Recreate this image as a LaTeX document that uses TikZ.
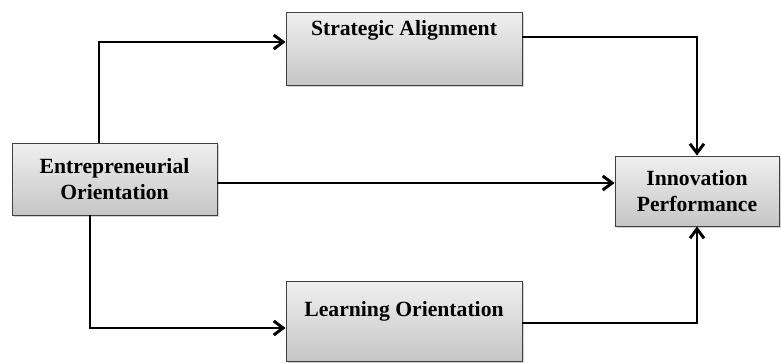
\documentclass[tikz,border=0pt]{standalone}
\usepackage{fontspec}
\setmainfont{Liberation Serif}
\usetikzlibrary{arrows.meta,shadows}

\tikzset{
  box/.style={draw=black!75, line width=0.8pt, top color=gray!12, bottom color=gray!45,
    drop shadow={shadow xshift=1.5pt, shadow yshift=-1.5pt, opacity=0.35},
    align=center, inner sep=0pt, font=\fontsize{18.5}{22.5}\selectfont\bfseries},
  link/.style={line width=2.5pt, -{Straight Barb[length=8pt,width=12pt,line width=2.5pt]}}
}

\begin{document}
\begin{tikzpicture}[x=0.03cm, y=-0.03cm]
  \useasboundingbox (0,0) rectangle (781,363);

  \node[box, minimum width=205*0.03cm, minimum height=72*0.03cm] (eo) at (114.5,179) {Entrepreneurial\\Orientation};
  \node[box, minimum width=236*0.03cm, minimum height=73*0.03cm] (sa) at (404,48.5) {Strategic Alignment\\[5pt]\strut};
  \node[box, minimum width=236*0.03cm, minimum height=80*0.03cm] (lo) at (404,321) {Learning Orientation\\[-8pt]\strut};
  \node[box, minimum width=164*0.03cm, minimum height=70*0.03cm] (ip) at (697,191) {Innovation\\Performance};

  \coordinate (up) at (99,42);
  \coordinate (dn) at (90,328);
  \coordinate (mid) at (400,183);
  \coordinate (tr) at (697,37);
  \coordinate (br) at (697,323);

  \draw[link] (eo.north -| up) -- (up) -- (sa.west |- up);
  \draw[link] (eo.south -| dn) -- (dn) -- (lo.west |- dn);
  \draw[link] (eo.east |- mid) -- (ip.west |- mid);
  \draw[link] (sa.east |- tr) -- (tr) -- (ip.north);
  \draw[link] (lo.east |- br) -- (br) -- (ip.south);
\end{tikzpicture}
\end{document}
